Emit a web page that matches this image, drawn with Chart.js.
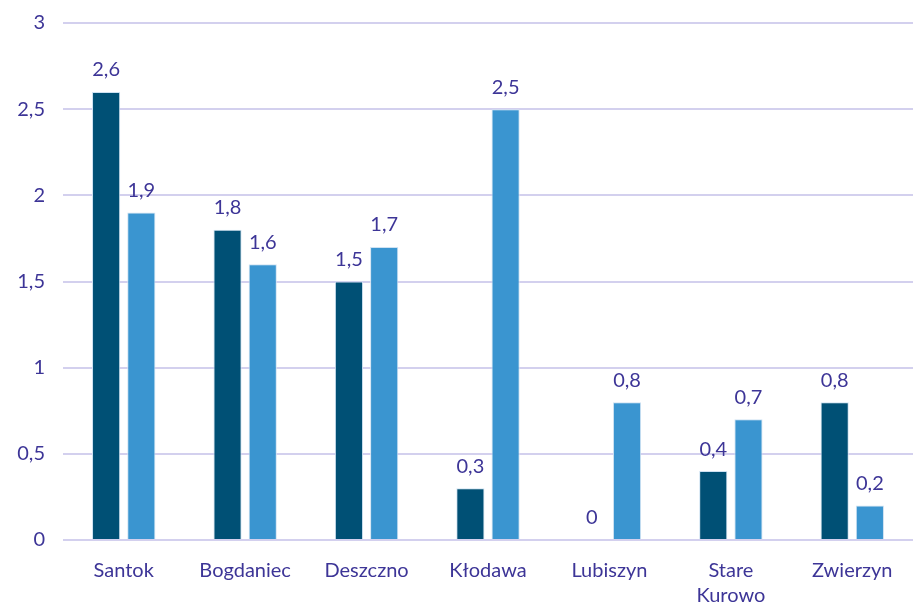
<!DOCTYPE html>
<html>
<head>
<meta charset="utf-8">
<script src="https://cdn.jsdelivr.net/npm/chart.js@4"></script>
<style>
  html, body { margin: 0; padding: 0; background: #fff; }
  #wrap { width: 913px; height: 610px; }
</style>
</head>
<body>
<div id="wrap"><canvas id="chart"></canvas></div>
<script>
const categories = ['Santok', 'Bogdaniec', 'Deszczno', 'Kłodawa', 'Lubiszyn', ['Stare', 'Kurowo'], 'Zwierzyn'];
const seriesA = [2.6, 1.8, 1.5, 0.3, 0, 0.4, 0.8];
const seriesB = [1.9, 1.6, 1.7, 2.5, 0.8, 0.7, 0.2];
const yTicks = [0, 0.5, 1, 1.5, 2, 2.5, 3];

const textColor = '#3d3597';
const fontFamily = "Lato, 'Open Sans', sans-serif";

const fmt = v => String(v).replace('.', ',');

// draws the value above each bar
const valueLabels = {
    id: 'valueLabels',
    afterDatasetsDraw(chart) {
        const ctx = chart.ctx;
        ctx.save();
        ctx.fillStyle = textColor;
        ctx.font = '20px ' + fontFamily;
        ctx.textAlign = 'center';
        ctx.textBaseline = 'bottom';
        chart.data.datasets.forEach((ds, i) => {
            chart.getDatasetMeta(i).data.forEach((bar, j) => {
                ctx.fillText(fmt(ds.data[j]), bar.x, bar.y - 12);
            });
        });
        ctx.restore();
    }
};

new Chart(document.getElementById('chart'), {
    type: 'bar',
    data: {
        labels: categories,
        datasets: [{
            label: 'A',
            data: seriesA,
            backgroundColor: '#005075',
            borderColor: '#cfe2f2',
            borderWidth: 1
        }, {
            label: 'B',
            data: seriesB,
            backgroundColor: '#3a95d0',
            borderColor: '#cfe2f2',
            borderWidth: 1
        }]
    },
    options: {
        responsive: true,
        maintainAspectRatio: false,
        animation: false,
        categoryPercentage: 0.58,
        barPercentage: 0.8,
        layout: { padding: 0 },
        scales: {
            y: {
                min: 0,
                max: 3,
                afterBuildTicks: scale => { scale.ticks = yTicks.map(v => ({ value: v })); },
                afterFit: scale => {
                    scale.width = 63;
                    scale.paddingTop = 23;
                    scale.paddingBottom = 12;
                },
                border: { display: false },
                grid: { color: '#d3d0ee', lineWidth: 2, drawTicks: false },
                ticks: {
                    color: textColor,
                    padding: 18,
                    font: { size: 20, family: fontFamily },
                    callback: v => fmt(v)
                }
            },
            x: {
                afterFit: scale => { scale.height = 70; },
                border: { display: false },
                grid: { display: false },
                ticks: {
                    color: textColor,
                    padding: 10,
                    maxRotation: 0,
                    autoSkip: false,
                    font: { size: 20, family: fontFamily, lineHeight: 1.25 }
                }
            }
        },
        plugins: {
            legend: { display: false },
            tooltip: { enabled: false }
        }
    },
    plugins: [valueLabels]
});
</script>
</body>
</html>
